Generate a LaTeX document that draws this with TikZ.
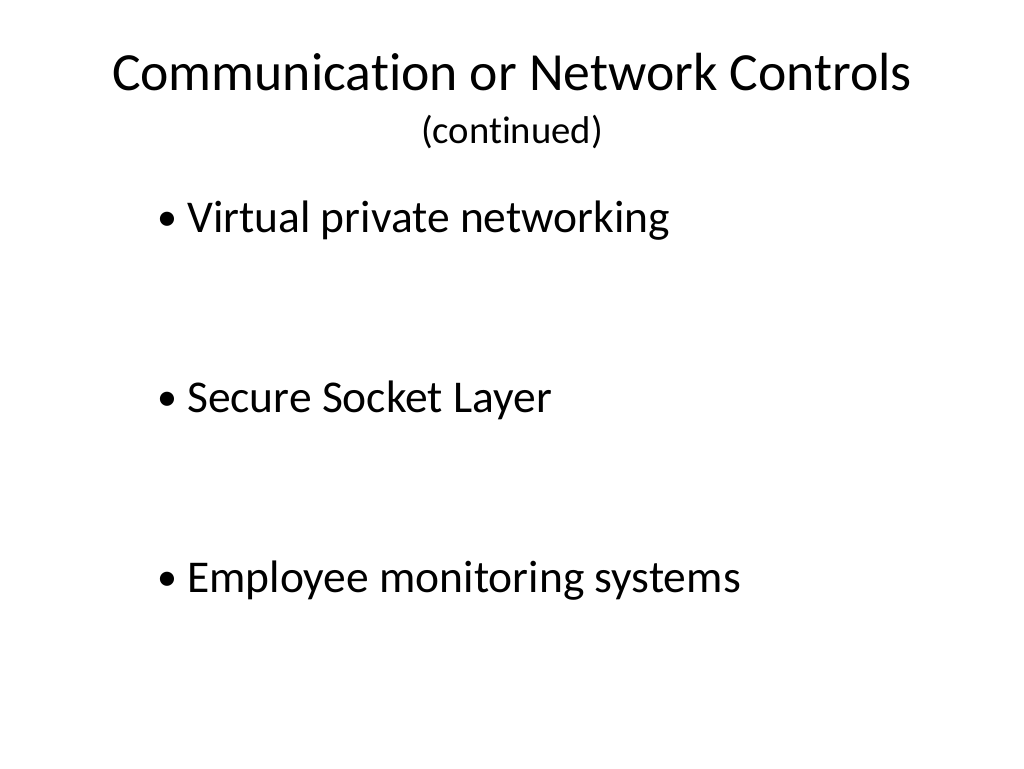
\documentclass[tikz,border=0pt]{standalone}
\usepackage{fontspec}
\setmainfont[Ligatures=NoCommon]{Carlito}
\begin{document}
\begin{tikzpicture}[x=1pt,y=-1pt,
  titletext/.style={anchor=base,inner sep=0pt,font=\fontsize{53.7}{60}\selectfont},
  subtext/.style={anchor=base,inner sep=0pt,font=\fontsize{38.7}{42}\selectfont},
  bodytext/.style={anchor=base west,inner sep=0pt,font=\fontsize{45.5}{50}\selectfont},
  bullettext/.style={anchor=base west,inner sep=0pt,font=\fontsize{40}{50}\selectfont}]
\useasboundingbox[fill=white] (0,0) rectangle (1024,768);
\node[titletext] (title) at (512,90) {Communication or Network Controls};
\node[subtext] (sub) at (512,143) {(continued)};
\node[bullettext] (b1) at (157,230) {•};
\node[bodytext] (t1) at (187,232) {Virtual private networking};
\node[bullettext] (b2) at (157,410) {•};
\node[bodytext] (t2) at (187,412) {Secure Socket Layer};
\node[bullettext] (b3) at (157,590) {•};
\node[bodytext] (t3) at (187,592) {Employee monitoring systems};
\end{tikzpicture}
\end{document}
